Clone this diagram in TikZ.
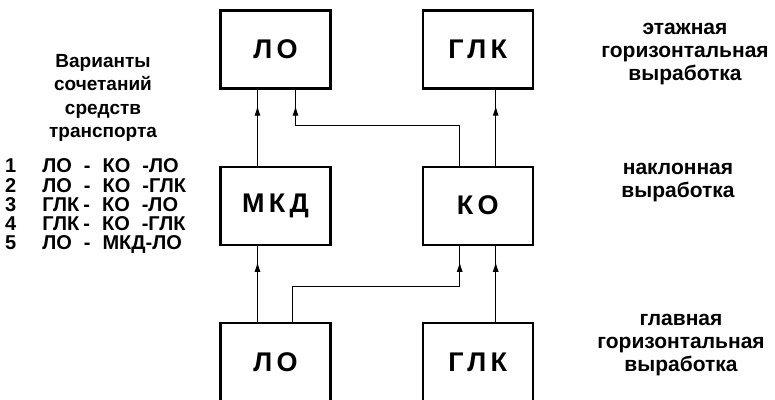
\documentclass[tikz,border=0pt]{standalone}
\usepackage{fontspec}
\setmainfont{Liberation Sans}
\usetikzlibrary{arrows.meta,positioning,decorations.markings}

\begin{document}
\begin{tikzpicture}[x=1pt,y=-1pt,node distance=76pt and 90pt,
block/.style={draw,line width=2.2pt,minimum width=110pt,minimum height=78pt,inner sep=0pt,font=\fontsize{27}{27}\selectfont\bfseries\addfontfeatures{LetterSpace=16}},
link/.style={line width=1.2pt,postaction={decorate},decoration={markings,mark=at position -16pt with {\arrow{Latex[length=10pt,width=6pt]}}}},
note/.style={align=center,font=\fontsize{21}{23}\selectfont\bfseries}]
\useasboundingbox (0,0) rectangle (775,399);
\node[block] (lo1) at (275.5,49.5) {ЛО};
\node[block,right=of lo1] (glk1) {ГЛК};
\node[block,below=of lo1] (mkd) {МКД};
\node[block,below=of glk1] (ko) {КО};
\node[block,below=of mkd] (lo2) {ЛО};
\node[block,below=of ko] (glk2) {ГЛК};
\draw[link] ([xshift=-18pt]mkd.north)--([xshift=-18pt]lo1.south);
\draw[link] ([xshift=-18pt]ko.north)--++(0,-40)-|([xshift=20pt]lo1.south);
\draw[link] ([xshift=18pt]ko.north)--([xshift=18pt]glk1.south);
\draw[link] ([xshift=-18pt]lo2.north)--([xshift=-18pt]mkd.south);
\draw[link] ([xshift=17pt]lo2.north)--++(0,-35)-|([xshift=-18pt]ko.south);
\draw[link] ([xshift=18pt]glk2.north)--([xshift=18pt]ko.south);
\node[note,font=\fontsize{19}{23.5}\selectfont\bfseries] (vars) at (103,98) {Варианты\\сочетаний\\средств\\транспорта};
\node[anchor=west,inner sep=0pt,font=\fontsize{20}{17.5}\selectfont\bfseries] (combos) at (5,207) {\begin{tabular}{@{}l@{\hspace{26pt}}l@{}}
1&ЛО\hspace{12pt}-\hspace{12pt}КО\hspace{12pt}-ЛО\\
2&ЛО\hspace{12pt}-\hspace{12pt}КО\hspace{12pt}-ГЛК\\
3&ГЛК\hspace{4pt}-\hspace{12pt}КО\hspace{12pt}-ЛО\\
4&ГЛК\hspace{4pt}-\hspace{12pt}КО\hspace{12pt}-ГЛК\\
5&ЛО\hspace{12pt}-\hspace{12pt}МКД-ЛО
\end{tabular}};
\node[note] (storey) at (685,54) {этажная\\горизонтальная\\выработка};
\node[note] (incline) at (678,183) {наклонная\\выработка};
\node[note] (mainway) at (681,345) {главная\\горизонтальная\\выработка};
\end{tikzpicture}
\end{document}
